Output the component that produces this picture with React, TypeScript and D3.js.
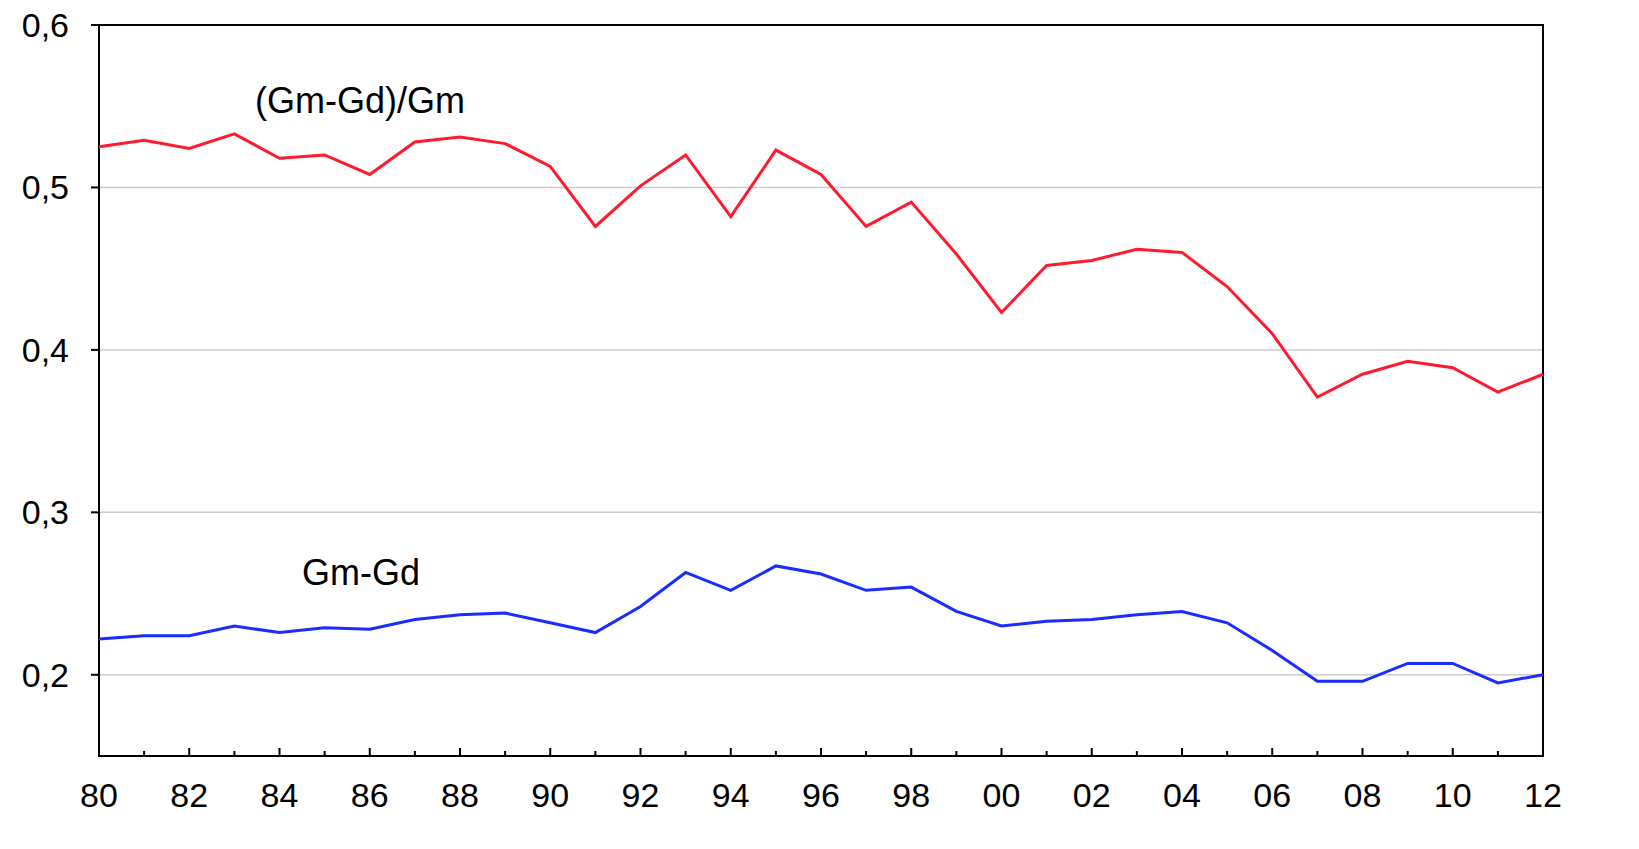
import { useEffect, useRef } from 'react';
import * as d3 from 'd3';

const years = d3.range(1980, 2013);
const ratio = [0.525, 0.529, 0.524, 0.533, 0.518, 0.520, 0.508, 0.528, 0.531, 0.527, 0.513, 0.476, 0.501, 0.520, 0.482, 0.523, 0.508, 0.476, 0.491, 0.459, 0.423, 0.452, 0.455, 0.462, 0.460, 0.439, 0.410, 0.371, 0.385, 0.393, 0.389, 0.374, 0.385];
const diff = [0.222, 0.224, 0.224, 0.230, 0.226, 0.229, 0.228, 0.234, 0.237, 0.238, 0.232, 0.226, 0.242, 0.263, 0.252, 0.267, 0.262, 0.252, 0.254, 0.239, 0.230, 0.233, 0.234, 0.237, 0.239, 0.232, 0.215, 0.196, 0.196, 0.207, 0.207, 0.195, 0.200];
const yTicks = [0.2, 0.3, 0.4, 0.5, 0.6];

const App = () => {
    const ref = useRef<SVGSVGElement>(null);

    useEffect(() => {
        const svg = d3.select(ref.current);
        svg.selectAll('*').remove();
        const width = 1639, height = 849;
        const m = { top: 25, right: 96, bottom: 93, left: 99 };
        const font = 'Arial, Liberation Sans';

        const x = d3.scaleLinear().domain([1980, 2012]).range([m.left, width - m.right]);
        const y = d3.scaleLinear().domain([0.15, 0.6]).range([height - m.bottom, m.top]);

        // grid
        svg.selectAll('.grid').data(yTicks.slice(0, 4)).enter().append('line')
            .attr('x1', m.left).attr('x2', width - m.right)
            .attr('y1', d => y(d)).attr('y2', d => y(d))
            .attr('stroke', '#cccccc').attr('stroke-width', 1.5);

        // frame
        svg.append('rect').attr('x', m.left).attr('y', m.top)
            .attr('width', width - m.right - m.left).attr('height', height - m.bottom - m.top)
            .attr('fill', 'none').attr('stroke', '#000').attr('stroke-width', 2);

        const fs = '34px';
        yTicks.forEach(t => {
            svg.append('line').attr('x1', m.left - 8).attr('x2', m.left).attr('y1', y(t)).attr('y2', y(t)).attr('stroke', '#000').attr('stroke-width', 2);
            svg.append('text').attr('x', m.left - 30).attr('y', y(t) + 12).attr('text-anchor', 'end')
                .style('font-family', font).style('font-size', fs).text(d3.format('.1f')(t).replace('.', ','));
        });
        years.forEach(yr => {
            const major = yr % 2 === 0;
            svg.append('line').attr('x1', x(yr)).attr('x2', x(yr)).attr('y1', height - m.bottom).attr('y2', height - m.bottom - (major ? 8 : 5)).attr('stroke', '#000').attr('stroke-width', 2);
            if (major) svg.append('text').attr('x', x(yr)).attr('y', height - m.bottom + 51).attr('text-anchor', 'middle')
                .style('font-family', font).style('font-size', fs).text(String(yr % 100).padStart(2, '0'));
        });

        const line = d3.line<number>().x((_, i) => x(years[i])).y(d => y(d));
        svg.append('path').attr('d', line(ratio)).attr('fill', 'none').attr('stroke', '#ff1a2e').attr('stroke-width', 3);
        svg.append('path').attr('d', line(diff)).attr('fill', 'none').attr('stroke', '#1a2cff').attr('stroke-width', 3);

        svg.append('text').attr('x', 255).attr('y', 113).style('font-family', font).style('font-size', '36px').text('(Gm-Gd)/Gm');
        svg.append('text').attr('x', 302).attr('y', 585).style('font-family', font).style('font-size', '36px').text('Gm-Gd');
    }, []);

    return <svg ref={ref} width={1639} height={849} style={{ position: 'absolute', left: 0, top: 0, background: '#fff' }} />;
};

export default App;
